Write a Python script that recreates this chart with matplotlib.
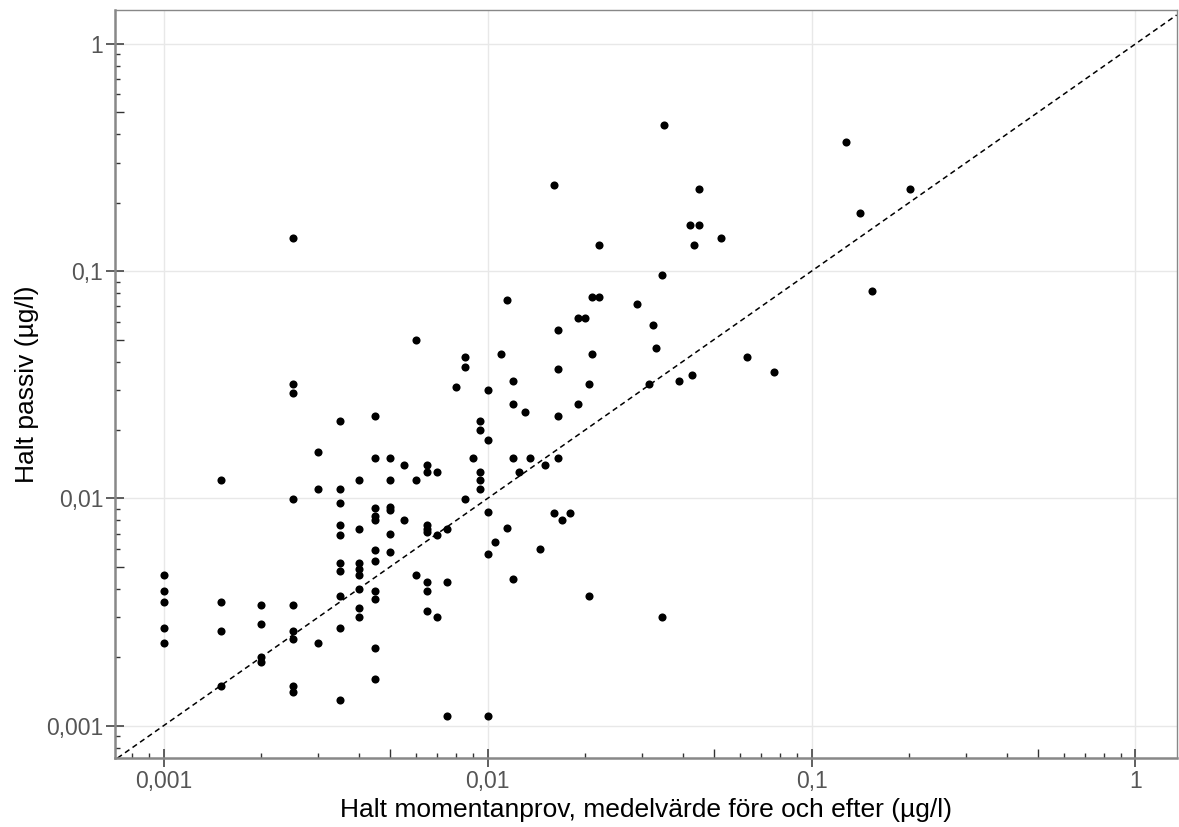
import matplotlib
matplotlib.use('Agg')
import matplotlib.pyplot as plt
from matplotlib.ticker import LogLocator, FixedLocator, FuncFormatter, NullFormatter, NullLocator

plt.rcParams['font.family'] = ['Liberation Sans', 'DejaVu Sans']

# Halt momentanprov (x) and halt passiv (y), ug/l
x_moment = [
    0.001, 0.001, 0.001, 0.001, 0.001,
    0.0015, 0.0015, 0.0015, 0.0015,
    0.002, 0.002, 0.002, 0.002,
    0.0025, 0.0025, 0.0025, 0.0025, 0.0025, 0.0025, 0.0025, 0.0025, 0.0025,
    0.003, 0.003, 0.003,
    0.0035, 0.0035, 0.0035, 0.0035, 0.0035, 0.0035, 0.0035, 0.0035, 0.0035, 0.0035,
    0.004, 0.004, 0.004, 0.004, 0.004, 0.004, 0.004, 0.004,
    0.0045, 0.0045, 0.0045, 0.0045, 0.0045, 0.0045, 0.0045, 0.0045, 0.0045, 0.0045, 0.0045,
    0.005, 0.005, 0.005, 0.005, 0.005, 0.005,
    0.0055, 0.0055,
    0.006, 0.006, 0.006,
    0.0065, 0.0065, 0.0065, 0.0065, 0.0065, 0.0065, 0.0065, 0.0065,
    0.007, 0.007, 0.007,
    0.0075, 0.0075, 0.0075,
    0.008,
    0.0085, 0.0085, 0.0085,
    0.009,
    0.0095, 0.0095, 0.0095, 0.0095, 0.0095,
    0.01, 0.01, 0.01, 0.01, 0.01,
    0.0105, 0.011, 0.0115, 0.0115,
    0.012, 0.012, 0.012, 0.012,
    0.0125, 0.013, 0.0135, 0.0145, 0.015,
    0.016, 0.016,
    0.0165, 0.0165, 0.0165, 0.0165,
    0.017, 0.018, 0.019, 0.019, 0.020,
    0.0205, 0.0205, 0.021, 0.021, 0.022, 0.022,
    0.029, 0.0315, 0.0325, 0.0332, 0.0345, 0.0345, 0.035, 0.039,
    0.042, 0.0426, 0.0435, 0.045, 0.045, 0.0527, 0.063, 0.0766,
    0.128, 0.141, 0.154, 0.202,
]
y_passiv = [
    0.0046, 0.0039, 0.0035, 0.0027, 0.0023,
    0.012, 0.0035, 0.0026, 0.0015,
    0.0034, 0.0028, 0.0020, 0.0019,
    0.14, 0.032, 0.029, 0.0099, 0.0034, 0.0026, 0.0024, 0.0015, 0.0014,
    0.016, 0.011, 0.0023,
    0.022, 0.011, 0.0095, 0.0076, 0.0069, 0.0052, 0.0048, 0.0037, 0.0027, 0.0013,
    0.012, 0.0073, 0.0052, 0.0049, 0.0046, 0.0040, 0.0033, 0.0030,
    0.023, 0.015, 0.0091, 0.0084, 0.0080, 0.0059, 0.0053, 0.0039, 0.0036, 0.0022, 0.0016,
    0.015, 0.012, 0.0092, 0.0089, 0.0070, 0.0058,
    0.014, 0.0080,
    0.050, 0.012, 0.0046,
    0.014, 0.013, 0.0076, 0.0073, 0.0071, 0.0043, 0.0039, 0.0032,
    0.013, 0.0069, 0.0030,
    0.0073, 0.0043, 0.0011,
    0.031,
    0.042, 0.038, 0.0099,
    0.015,
    0.022, 0.020, 0.013, 0.012, 0.011,
    0.030, 0.018, 0.0087, 0.0057, 0.0011,
    0.0064, 0.043, 0.075, 0.0074,
    0.033, 0.026, 0.015, 0.0044,
    0.013, 0.024, 0.015, 0.0060, 0.014,
    0.24, 0.0086,
    0.055, 0.037, 0.023, 0.015,
    0.0080, 0.0086, 0.062, 0.026, 0.062,
    0.032, 0.0037, 0.077, 0.043, 0.077, 0.13,
    0.072, 0.032, 0.058, 0.046, 0.096, 0.0030, 0.44, 0.033,
    0.16, 0.035, 0.13, 0.23, 0.16, 0.14, 0.042, 0.036,
    0.37, 0.18, 0.082, 0.23,
]

major_ticks = [0.001, 0.01, 0.1, 1]
tick_labels = ['0,001', '0,01', '0,1', '1']
half_ticks = [0.005, 0.05, 0.5]
x_label = 'Halt momentanprov, medelvärde före och efter (µg/l)'
y_label = 'Halt passiv (µg/l)'

fig = plt.figure(figsize=(11.79, 8.27), dpi=100)
ax = fig.add_axes([0.0975, 0.0834, 0.9005, 0.9045])

ax.scatter(x_moment, y_passiv, s=34, color='black', linewidths=0, zorder=3)
ax.axline((0.001, 0.001), (1, 1), color='black', lw=1.1, ls=(0, (3.5, 2.5)), zorder=2)

ax.set_xscale('log')
ax.set_yscale('log')
ax.set_xlim(0.000707, 1.34)
ax.set_ylim(0.00072, 1.41)

fmt = FuncFormatter(lambda v, p: tick_labels[major_ticks.index(v)] if v in major_ticks else '')
for axis in (ax.xaxis, ax.yaxis):
    axis.set_major_locator(FixedLocator(major_ticks))
    axis.set_major_formatter(fmt)
    axis.set_minor_locator(LogLocator(base=10, subs=[2, 3, 4, 6, 7, 8, 9]))
    axis.set_minor_formatter(NullFormatter())

ax.tick_params(which='major', direction='inout', length=13, width=1.2, color='#444444',
               labelsize=16.5, labelcolor='#555555', pad=2)
ax.tick_params(which='minor', direction='in', length=3.6, width=1, color='#333333')

# medium ticks at 5 per decade
for sec in (ax.secondary_xaxis('bottom'), ax.secondary_yaxis('left')):
    sec.set_ticks(half_ticks)
    sec.tick_params(direction='in', length=6.5, width=1, color='#333333',
                    labelbottom=False, labelleft=False)
    sec.tick_params(which='minor', length=0)
    for sp in sec.spines.values():
        sp.set_visible(False)
sec_axes = fig.axes[1:]
for s in sec_axes:
    s.xaxis.set_minor_locator(NullLocator())
    s.yaxis.set_minor_locator(NullLocator())

ax.grid(True, which='major', color='#e8e8e8', lw=1)
ax.set_axisbelow(True)

for side in ('left', 'bottom'):
    ax.spines[side].set_color('#888888')
    ax.spines[side].set_linewidth(1.8)
for side in ('top', 'right'):
    ax.spines[side].set_color('#888888')
    ax.spines[side].set_linewidth(1)

ax.set_xlabel(x_label, fontsize=19, labelpad=4)
ax.set_ylabel(y_label, fontsize=19, labelpad=5)

fig.savefig('out.png', dpi=100)
